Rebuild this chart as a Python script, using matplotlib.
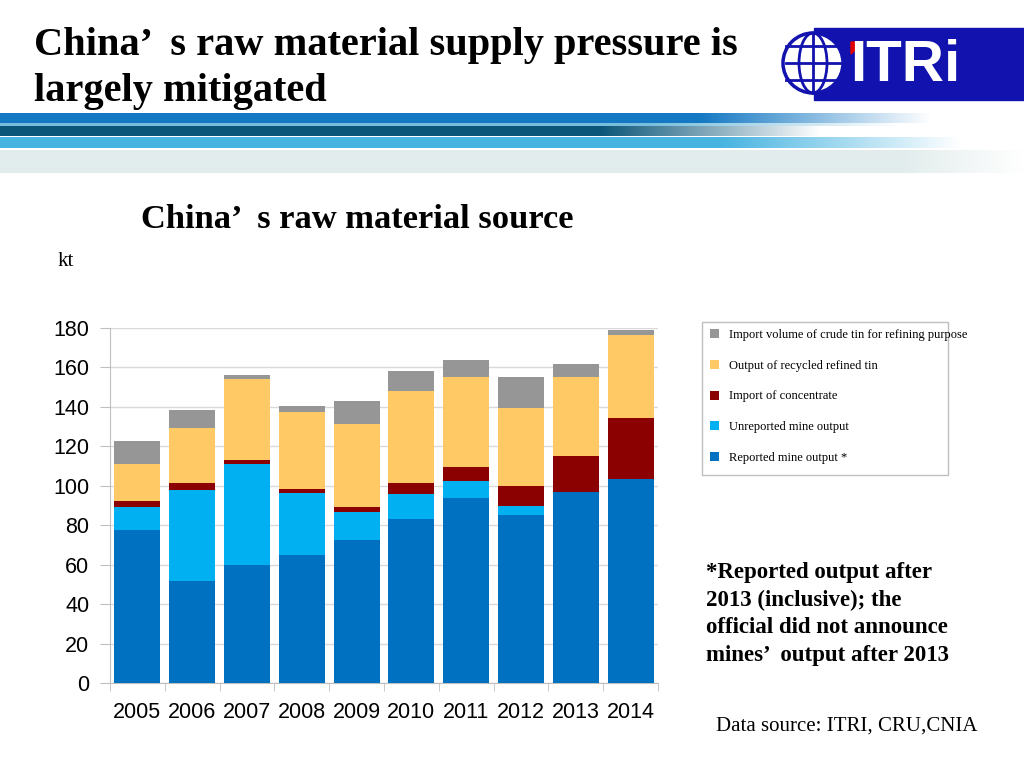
import numpy as np
import matplotlib.pyplot as plt
from matplotlib.patches import Patch, Rectangle, Circle, Ellipse, Polygon

years = ["2005", "2006", "2007", "2008", "2009", "2010", "2011", "2012", "2013", "2014"]
reported = [77.8, 51.8, 59.9, 65.1, 72.4, 83.4, 93.6, 85.3, 96.8, 103.4]
unreported = [11.2, 46.3, 51.3, 31.2, 14.4, 12.4, 8.6, 4.5, 0.0, 0.0]
concentrate = [3.4, 3.3, 2.0, 2.0, 2.5, 5.4, 7.3, 9.9, 18.1, 31.1]
recycled = [18.4, 27.7, 41.1, 39.3, 42.0, 47.0, 45.7, 39.6, 40.1, 41.8]
crude = [11.9, 9.3, 1.9, 2.8, 11.8, 9.8, 8.8, 16.0, 6.9, 2.9]

series = [
    ("Reported mine output *", reported, "#0070C0"),
    ("Unreported mine output", unreported, "#00B0F0"),
    ("Import of concentrate", concentrate, "#8B0000"),
    ("Output of recycled refined tin", recycled, "#FFC966"),
    ("Import volume of crude tin for refining purpose", crude, "#969696"),
]

serif = ["Liberation Serif", "DejaVu Serif"]
sans = ["Liberation Sans", "DejaVu Sans"]

fig = plt.figure(figsize=(10.24, 7.68), dpi=100)

# background decorations (header stripes and logo)
bg = fig.add_axes([0, 0, 1, 1], zorder=-5)
bg.set_xlim(0, 1024)
bg.set_ylim(768, 0)
bg.axis("off")


def stripe(y0, y1, rgb, fade0, fade1):
    w = 1024
    x = np.arange(w)
    alpha = np.clip((fade1 - x) / (fade1 - fade0), 0, 1)
    img = np.zeros((1, w, 4))
    img[0, :, :3] = np.array(rgb) / 255.0
    img[0, :, 3] = alpha
    bg.imshow(img, extent=[0, 1024, y1, y0], aspect="auto", interpolation="bilinear")


stripe(150, 173, (226, 236, 236), 900, 1024)
stripe(113, 123, (20, 120, 195), 700, 930)
stripe(123, 126, (120, 190, 220), 650, 900)
stripe(126, 136, (10, 85, 120), 600, 820)
stripe(137, 148, (70, 180, 225), 720, 960)
bg.set_xlim(0, 1024)
bg.set_ylim(768, 0)

# logo
bg.add_patch(Rectangle((814, 28), 210, 72, color="#1212AE"))
bg.add_patch(Circle((813, 63), 30, facecolor="white", edgecolor="#1212AE", lw=2.5))
bg.add_patch(Ellipse((813, 63), 28, 60, facecolor="none", edgecolor="#1212AE", lw=2))
for dy in (-17, 0, 17):
    bg.plot([786, 840], [63 + dy, 63 + dy], color="#1212AE", lw=2)
bg.plot([813, 813], [33, 93], color="#1212AE", lw=2)
bg.text(850, 66, "ITRi", color="white", fontsize=42, fontweight="bold",
        family=sans, va="center", ha="left")
bg.add_patch(Polygon([[851, 42], [863, 42], [851, 54]], color="#E00000"))
bg.add_patch(Rectangle((702, 322), 246, 153, facecolor="none", edgecolor="#BFBFBF", lw=1))

# titles and notes
fig.text(34 / 1024, 1 - 45 / 768, "China\u2019  s raw material supply pressure is",
         family=serif, fontsize=29.1, fontweight="bold", va="center")
fig.text(34 / 1024, 1 - 92 / 768, "largely mitigated",
         family=serif, fontsize=29.1, fontweight="bold", va="center")
fig.text(141 / 1024, 1 - 219 / 768, "China\u2019  s raw material source",
         family=serif, fontsize=24.8, fontweight="bold", va="center")
fig.text(58 / 1024, 1 - 262 / 768, "kt", family=serif, fontsize=15, va="center")
fig.text(706 / 1024, 1 - 614 / 768,
         "*Reported output after\n2013 (inclusive); the\nofficial did not announce\nmines\u2019  output after 2013",
         family=serif, fontsize=16.5, fontweight="bold", va="center", linespacing=1.4)
fig.text(716 / 1024, 1 - 726 / 768, "Data source: ITRI, CRU,CNIA",
         family=serif, fontsize=15, va="center")

# chart
ax = fig.add_axes([110 / 1024, 85 / 768, 548 / 1024, 355 / 768])
x = np.arange(len(years))
bottom = np.zeros(len(years))
handles = []
for name, vals, color in series:
    vals = np.array(vals)
    ax.bar(x, vals, 0.84, bottom=bottom, color=color, zorder=3)
    bottom += vals
    handles.append(Patch(facecolor=color, label=name))

ax.set_xlim(-0.5, len(years) - 0.5)
ax.set_ylim(0, 180)
ax.set_yticks(np.arange(0, 181, 20))
ax.grid(axis="y", color="#D9D9D9", lw=1, zorder=0)
ax.set_xticks(x)
ax.set_xticklabels(years)
ax.set_xticks(np.arange(-0.5, len(years)), minor=True)
ax.tick_params(axis="x", which="major", length=0, pad=14)
ax.tick_params(axis="x", which="minor", length=6, color="#BFBFBF")
ax.tick_params(axis="y", length=7, color="#BFBFBF", pad=8)
for lab in ax.get_xticklabels() + ax.get_yticklabels():
    lab.set_family(sans)
    lab.set_fontsize(15.5)
for s in ("top", "right"):
    ax.spines[s].set_visible(False)
for s in ("left", "bottom"):
    ax.spines[s].set_color("#BFBFBF")

leg = fig.legend(handles=handles[::-1], loc="upper left",
                 bbox_to_anchor=(700 / 1024, 1 - 319 / 768),
                 prop={"family": serif, "size": 9}, frameon=False,
                 handlelength=0.75, handleheight=0.75,
                 labelspacing=1.5, borderpad=0.3, handletextpad=0.75)

fig.savefig("out.png", dpi=100)
